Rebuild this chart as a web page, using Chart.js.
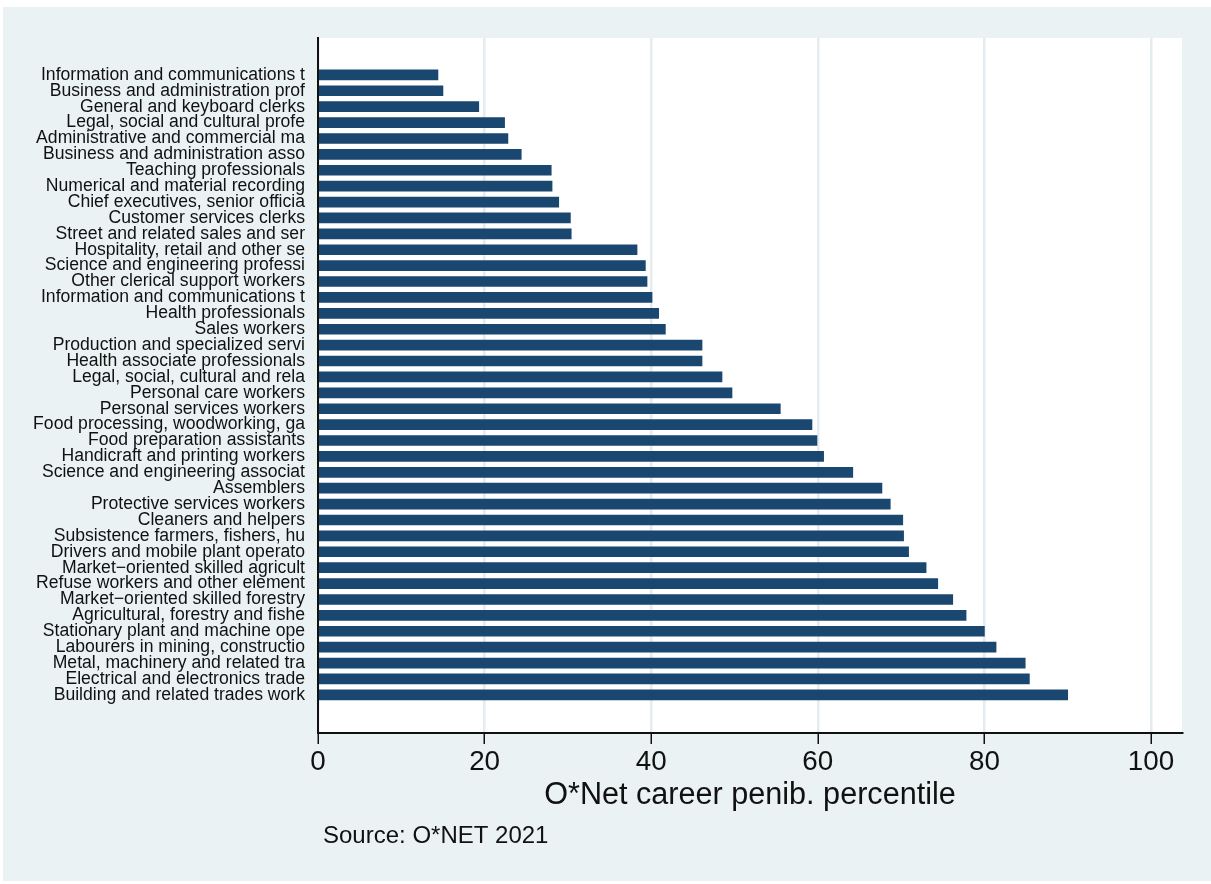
<!DOCTYPE html>
<html>
<head>
<meta charset="utf-8">
<title>O*Net career penib. percentile</title>
<script src="https://cdn.jsdelivr.net/npm/chart.js@4.4.1/dist/chart.umd.min.js"></script>
<style>
    html, body { margin: 0; padding: 0; background: #fff; }
    #wrap {
        position: absolute;
        left: 3px;
        top: 7px;
        width: 1208px;
        height: 874px;
        background: #EAF2F3;
    }
</style>
</head>
<body>
<div id="wrap"><canvas id="penibChart" width="1208" height="874"></canvas></div>
<script>
// ========================================
// Data
// ========================================
const occupations = [
    'Information and communications t',
    'Business and administration prof',
    'General and keyboard clerks',
    'Legal, social and cultural profe',
    'Administrative and commercial ma',
    'Business and administration asso',
    'Teaching professionals',
    'Numerical and material recording',
    'Chief executives, senior officia',
    'Customer services clerks',
    'Street and related sales and ser',
    'Hospitality, retail and other se',
    'Science and engineering professi',
    'Other clerical support workers',
    'Information and communications t',
    'Health professionals',
    'Sales workers',
    'Production and specialized servi',
    'Health associate professionals',
    'Legal, social, cultural and rela',
    'Personal care workers',
    'Personal services workers',
    'Food processing, woodworking, ga',
    'Food preparation assistants',
    'Handicraft and printing workers',
    'Science and engineering associat',
    'Assemblers',
    'Protective services workers',
    'Cleaners and helpers',
    'Subsistence farmers, fishers, hu',
    'Drivers and mobile plant operato',
    'Market\u2212oriented skilled agricult',
    'Refuse workers and other element',
    'Market\u2212oriented skilled forestry',
    'Agricultural, forestry and fishe',
    'Stationary plant and machine ope',
    'Labourers in mining, constructio',
    'Metal, machinery and related tra',
    'Electrical and electronics trade',
    'Building and related trades work'
];

const percentiles = [
    14.4, 15.0, 19.3, 22.4, 22.8, 24.4, 28.0, 28.1, 28.9, 30.3,
    30.4, 38.3, 39.3, 39.5, 40.1, 40.9, 41.7, 46.1, 46.1, 48.5,
    49.7, 55.5, 59.3, 59.9, 60.7, 64.2, 67.7, 68.7, 70.2, 70.3,
    70.9, 73.0, 74.4, 76.2, 77.8, 80.0, 81.4, 84.9, 85.4, 90.0
];

const xTickValues = [0, 20, 40, 60, 80, 100];
const xTitle = 'O*Net career penib. percentile';
const sourceNote = 'Source: O*NET 2021';

// ========================================
// Plugins: white plot region + source note
// ========================================
const plotBackground = {
    id: 'plotBackground',
    beforeDraw(chart) {
        const { ctx, chartArea: a } = chart;
        ctx.save();
        ctx.fillStyle = '#ffffff';
        ctx.fillRect(a.left, a.top, a.right - a.left, a.bottom - a.top);
        ctx.restore();
    }
};

const sourceText = {
    id: 'sourceText',
    afterDraw(chart) {
        const { ctx, chartArea: a } = chart;
        ctx.save();
        ctx.font = '24px "Liberation Sans", Arial, sans-serif';
        ctx.fillStyle = '#111';
        ctx.textAlign = 'left';
        ctx.textBaseline = 'alphabetic';
        ctx.fillText(sourceNote, a.left + 5, 836);
        ctx.restore();
    }
};

// ========================================
// Chart
// ========================================
const ctx = document.getElementById('penibChart');

new Chart(ctx, {
    type: 'bar',
    data: {
        datasets: [{
            data: percentiles.map((v, i) => ({ x: v, y: i })),
            backgroundColor: '#1A476F',
            borderWidth: 0,
            barThickness: 10
        }]
    },
    options: {
        indexAxis: 'y',
        responsive: false,
        animation: false,
        devicePixelRatio: 1,
        layout: {
            padding: { top: 31, right: 29, bottom: 70, left: 0 }
        },
        plugins: {
            legend: { display: false },
            tooltip: { enabled: false }
        },
        scales: {
            x: {
                type: 'linear',
                min: 0,
                max: 103.72,
                afterFit: s => { s.height = 78; },
                afterBuildTicks: s => {
                    s.ticks = xTickValues.map(v => ({ value: v }));
                },
                grid: {
                    color: '#E4ECEF',
                    lineWidth: 2.5,
                    tickColor: '#111',
                    tickWidth: 1.5,
                    tickLength: 11
                },
                border: { color: '#111', width: 2 },
                ticks: {
                    color: '#111',
                    padding: 4,
                    font: { family: '"Liberation Sans", Arial, sans-serif', size: 27.8, lineHeight: 1 }
                },
                title: {
                    display: true,
                    text: xTitle,
                    color: '#111',
                    padding: 0,
                    font: { family: '"Liberation Sans", Arial, sans-serif', size: 30.6, lineHeight: 1 }
                }
            },
            y: {
                type: 'linear',
                reverse: true,
                offset: false,
                min: -2.32,
                max: 41.4,
                afterFit: s => { s.width = 315; },
                afterBuildTicks: s => {
                    s.ticks = s.ticks.filter(t => Number.isInteger(t.value) && t.value >= 0 && t.value < occupations.length);
                },
                grid: { display: false, drawTicks: false },
                border: { color: '#111', width: 2 },
                ticks: {
                    stepSize: 1,
                    autoSkip: false,
                    padding: 13,
                    color: '#111',
                    font: { family: '"Liberation Sans", Arial, sans-serif', size: 17.6, lineHeight: 1 },
                    callback: v => occupations[v] ?? ''
                }
            }
        }
    },
    plugins: [plotBackground, sourceText]
});
</script>
</body>
</html>
